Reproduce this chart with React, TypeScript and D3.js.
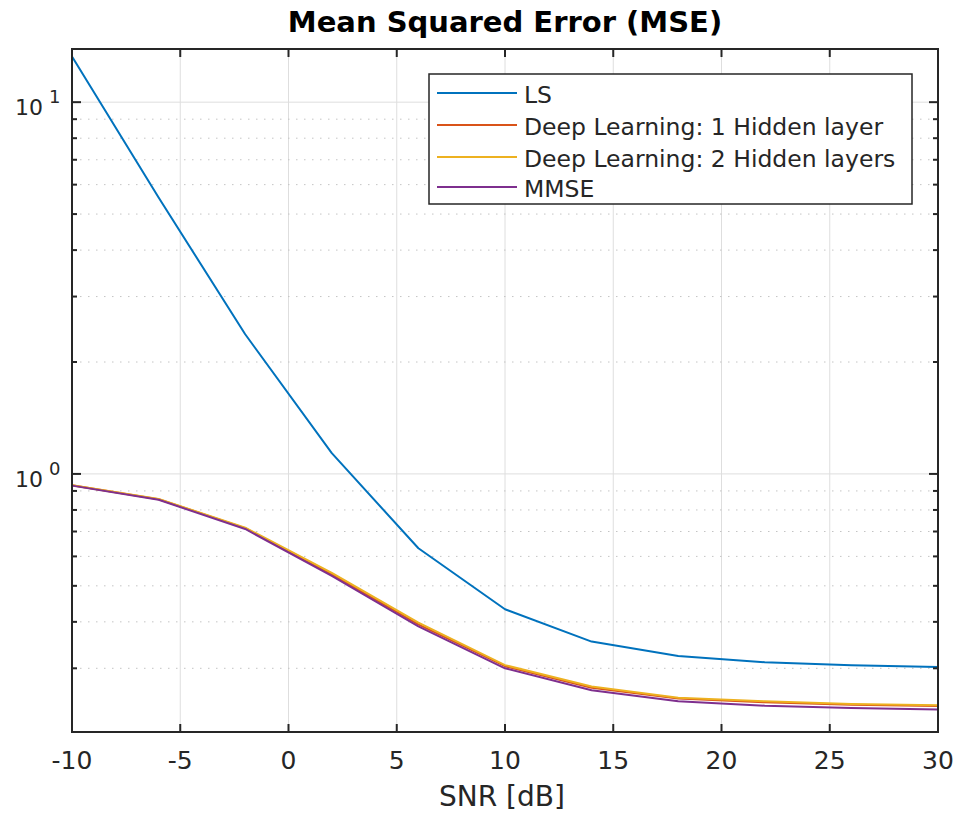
import React from "react";
import * as d3 from "d3";

const snr = [-10, -6, -2, 2, 6, 10, 14, 18, 22, 26, 30];
const lsMse = [13.27, 5.54, 2.375, 1.137, 0.631, 0.4325, 0.354, 0.3237, 0.3114, 0.3057, 0.3026];
const dl1Mse = [0.932, 0.855, 0.715, 0.537, 0.394, 0.304, 0.266, 0.249, 0.243, 0.2395, 0.2375];
const dl2Mse = [0.932, 0.856, 0.717, 0.542, 0.398, 0.306, 0.268, 0.250, 0.2445, 0.2405, 0.2385];
const mmseMse = [0.93, 0.852, 0.711, 0.532, 0.389, 0.300, 0.262, 0.2445, 0.238, 0.2345, 0.2325];
const seriesNames = ["LS", "Deep Learning: 1 Hidden layer", "Deep Learning: 2 Hidden layers", "MMSE"];
const seriesColors = ["#0072BD", "#D95319", "#EDB120", "#7E2F8E"];
const xTicks = [-10, -5, 0, 5, 10, 15, 20, 25, 30];
const yMajor = [1, 10];
const yMinor = [0.3, 0.4, 0.5, 0.6, 0.7, 0.8, 0.9, 2, 3, 4, 5, 6, 7, 8, 9];

const W = 959, H = 817;
const L = 72, R = 938, T = 49, B = 732;
const FONT = "'DejaVu Sans', sans-serif";
const AX = "#262626";

export default function App() {
  const x = d3.scaleLinear().domain([-10, 30]).range([L, R]);
  const y = d3.scaleLog().domain([0.2022, 13.9]).range([B, T]);
  const line = d3.line<number>().x((_, i) => x(snr[i])).y((v) => y(v));
  const allSeries = [lsMse, dl1Mse, dl2Mse, mmseMse];

  const legX = 429, legY = 74, legW = 483, legH = 130;
  const rowY = [93, 125, 157, 187];

  return (
    <svg width={W} height={H} style={{ position: "absolute", left: 0, top: 0, background: "#fff" }} fontFamily={FONT}>
      <rect x={0} y={0} width={W} height={H} fill="#fff" />
      {/* major grid */}
      {xTicks.map((t) => (
        <line key={"gx" + t} x1={x(t)} x2={x(t)} y1={T} y2={B} stroke="#dedede" strokeWidth={1} />
      ))}
      {yMajor.map((t) => (
        <line key={"gy" + t} x1={L} x2={R} y1={y(t)} y2={y(t)} stroke="#dedede" strokeWidth={1} />
      ))}
      {yMinor.map((t) => (
        <line key={"gm" + t} x1={L} x2={R} y1={y(t)} y2={y(t)} stroke="#c4c4c4" strokeWidth={1} strokeDasharray="1.5 6.5" />
      ))}
      {/* series */}
      {allSeries.map((s, i) => (
        <path key={"s" + i} d={line(s) || ""} fill="none" stroke={seriesColors[i]} strokeWidth={2} strokeLinejoin="round" />
      ))}
      {/* box */}
      <rect x={L} y={T} width={R - L} height={B - T} fill="none" stroke={AX} strokeWidth={2} />
      {/* x ticks */}
      {xTicks.map((t) => (
        <g key={"xt" + t}>
          <line x1={x(t)} x2={x(t)} y1={B} y2={B - 8} stroke={AX} strokeWidth={2} />
          <line x1={x(t)} x2={x(t)} y1={T} y2={T + 8} stroke={AX} strokeWidth={2} />
          <text x={x(t)} y={769} textAnchor="middle" fontSize={25} fill={AX}>{t}</text>
        </g>
      ))}
      {/* y ticks */}
      {yMajor.map((t) => (
        <g key={"yt" + t}>
          <line x1={L} x2={L + 9} y1={y(t)} y2={y(t)} stroke={AX} strokeWidth={2} />
          <line x1={R} x2={R - 9} y1={y(t)} y2={y(t)} stroke={AX} strokeWidth={2} />
          <text x={43} y={y(t) + 13} textAnchor="end" fontSize={22} fill={AX}>10</text>
          <text x={49} y={y(t) + 1} textAnchor="start" fontSize={18} fill={AX}>{Math.round(Math.log10(t))}</text>
        </g>
      ))}
      {yMinor.map((t) => (
        <g key={"ym" + t}>
          <line x1={L} x2={L + 5} y1={y(t)} y2={y(t)} stroke={AX} strokeWidth={2} />
          <line x1={R} x2={R - 5} y1={y(t)} y2={y(t)} stroke={AX} strokeWidth={2} />
        </g>
      ))}
      {/* labels */}
      <text x={502} y={806} textAnchor="middle" fontSize={28} fill={AX}>SNR [dB]</text>
      <text x={505} y={32} textAnchor="middle" fontSize={29} fontWeight="bold" fill="#000">Mean Squared Error (MSE)</text>
      {/* legend */}
      <rect x={legX} y={legY} width={legW} height={legH} fill="#fff" stroke={AX} strokeWidth={1.5} />
      {seriesNames.map((n, i) => (
        <g key={"lg" + i}>
          <line x1={437} x2={517} y1={rowY[i]} y2={rowY[i]} stroke={seriesColors[i]} strokeWidth={2} />
          <text x={524} y={rowY[i] + 9.5} fontSize={23.5} fill={AX}>{n}</text>
        </g>
      ))}
    </svg>
  );
}
